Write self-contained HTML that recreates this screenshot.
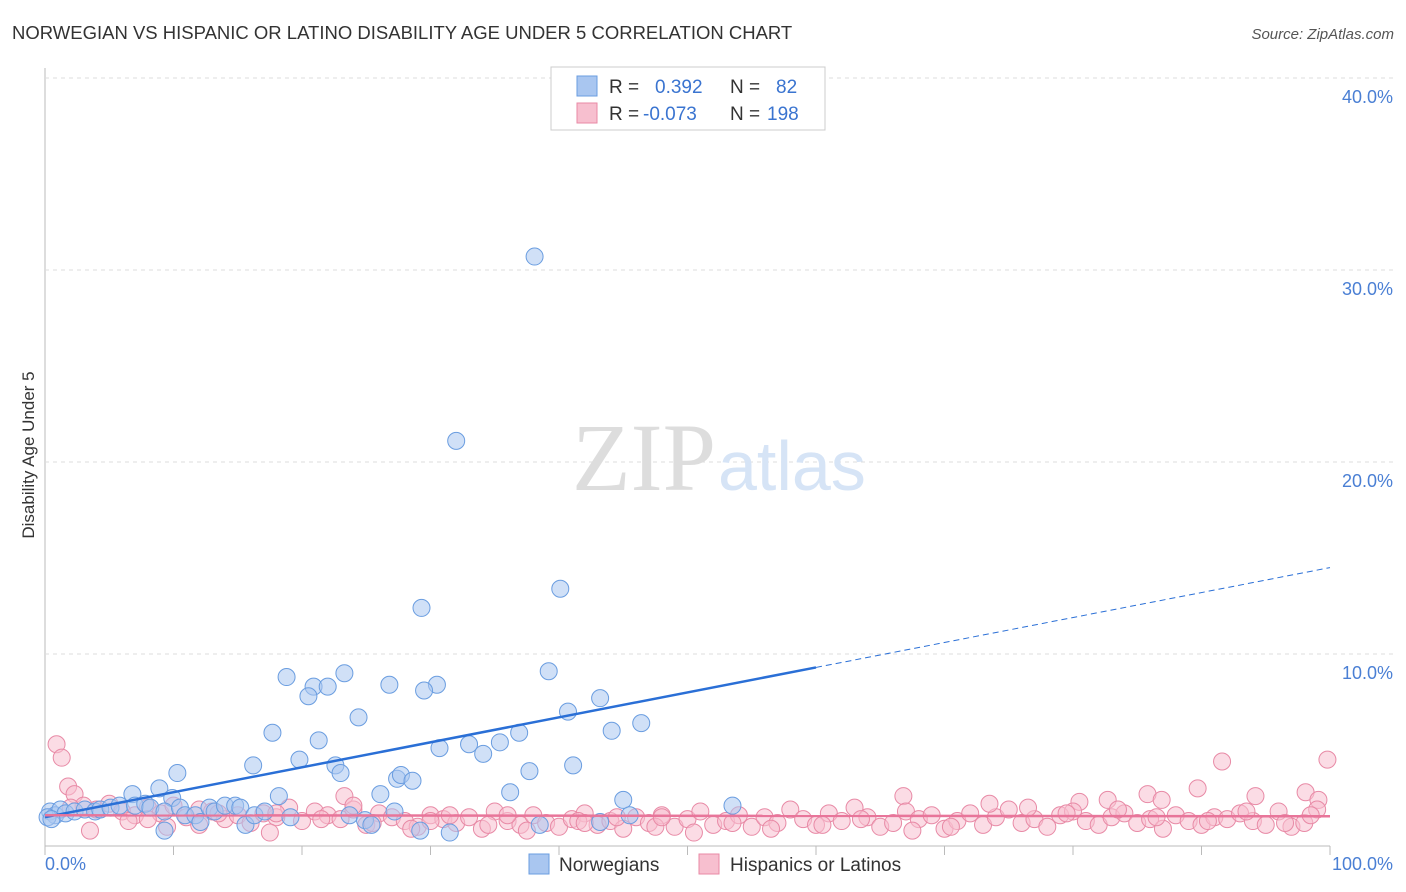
<!DOCTYPE html>
<html><head><meta charset="utf-8"><style>
body{margin:0;background:#fff;font-family:"Liberation Sans",sans-serif;}
svg{display:block}
</style></head><body>
<svg id="chart" width="1406" height="892">
<text x="12" y="39" font-size="18.5" fill="#333">NORWEGIAN VS HISPANIC OR LATINO DISABILITY AGE UNDER 5 CORRELATION CHART</text>
<text x="1394" y="39" font-size="15" fill="#555" text-anchor="end" font-style="italic">Source: ZipAtlas.com</text>
<text x="34" y="455" font-size="17" fill="#333" text-anchor="middle" transform="rotate(-90 34 455)">Disability Age Under 5</text>
<g id="grid"></g>
<text x="716" y="490" font-size="96" fill="#ddd" text-anchor="end" font-family="Liberation Serif">ZIP</text>
<text x="718" y="490" font-size="70" fill="#d6e4f6">atlas</text>
<g id="pts"></g>
<g id="lines"></g>
<g>
<rect x="551" y="67" width="274" height="63" fill="#fff" stroke="#ccc"/>
<rect x="577" y="76" width="20" height="20" fill="#a9c6f0" stroke="#6a9de0"/>
<rect x="577" y="103" width="20" height="20" fill="#f7bfcf" stroke="#e88aa6"/>
<text x="609" y="93" font-size="19" fill="#333">R = <tspan fill="#3a74d0" x="655">0.392</tspan><tspan x="730" fill="#333">N =</tspan><tspan x="776" fill="#3a74d0">82</tspan></text>
<text x="609" y="120" font-size="19" fill="#333">R = <tspan fill="#3a74d0" x="643">-0.073</tspan><tspan x="730" fill="#333">N =</tspan><tspan x="767" fill="#3a74d0">198</tspan></text>
</g>
<g>
<rect x="529" y="854" width="20" height="20" fill="#a9c6f0" stroke="#6a9de0"/>
<text x="559" y="871" font-size="19" fill="#333">Norwegians</text>
<rect x="699" y="854" width="20" height="20" fill="#f7bfcf" stroke="#e88aa6"/>
<text x="730" y="871" font-size="19" fill="#333">Hispanics or Latinos</text>
</g>
</svg>
<script>
const yTicks=[10,20,30,40];
const yTickLabels=["10.0%","20.0%","30.0%","40.0%"];
const xTickLabels=["0.0%","100.0%"];
const blueX=[38.1,32.0,29.3,40.1,39.2,43.2,40.7,46.4,44.1,18.8,20.9,22.0,23.3,26.8,30.5,29.5,20.5,24.4,17.7,21.3,30.7,33.0,34.1,35.4,36.9,19.8,22.6,23.0,16.2,10.3,37.7,41.1,27.4,27.7,28.6,8.9,36.2,26.1,6.8,18.2,45.0,53.5,9.9,0.4,0.8,1.2,1.6,2.3,3.1,3.9,4.3,5.1,5.8,7.0,7.8,8.2,9.3,10.5,10.9,11.7,12.1,12.8,13.2,14.0,14.8,15.2,15.6,16.3,17.1,19.1,23.7,24.9,25.4,27.2,29.2,31.5,38.5,43.2,45.5,9.3,0.2,0.5];
const blueY=[30.7,21.1,12.4,13.4,9.1,7.7,7.0,6.4,6.0,8.8,8.3,8.3,9.0,8.4,8.4,8.1,7.8,6.7,5.9,5.5,5.1,5.3,4.8,5.4,5.9,4.5,4.2,3.8,4.2,3.8,3.9,4.2,3.5,3.7,3.4,3.0,2.8,2.7,2.7,2.6,2.4,2.1,2.5,1.8,1.6,1.9,1.7,1.8,1.9,1.8,1.9,2.0,2.1,2.1,2.2,2.0,1.8,2.0,1.6,1.6,1.25,2.0,1.8,2.1,2.1,2.0,1.1,1.6,1.8,1.5,1.6,1.35,1.1,1.8,0.8,0.7,1.1,1.25,1.6,0.8,1.5,1.4];
const pinkX=[0.9,1.3,1.8,2.3,91.6,99.8,89.7,98.1,94.2,85.8,86.9,82.7,66.8,23.3,80.5,99.1,
3,4,5,6,7,8,9,10,11,12,13,14,15,16,17,18,19,20,21,22,23,24,25,26,27,28,29,30,31,32,33,34,35,36,37,38,39,40,41,42,43,44,45,46,47,48,49,50,51,52,53,54,55,56,57,58,59,60,61,62,63,64,65,66,67,68,69,70,71,72,73,74,75,76,77,78,79,80,81,82,83,84,85,86,87,88,89,90,91,92,93,94,95,96,97,98,99,
3.5,6.5,9.5,13.5,17.5,21.5,25.5,28.5,31.5,34.5,37.5,41.5,44.5,47.5,50.5,53.5,56.5,60.5,63.5,67.5,70.5,73.5,76.5,79.5,83.5,86.5,90.5,93.5,96.5,98.5,
2,8,12,18,24,30,36,42,48,54,60,66,72,78,84,90,95,97];
const pinkY=[5.3,4.6,3.1,2.7,4.4,4.5,3.0,2.8,2.6,2.7,2.4,2.4,2.6,2.6,2.3,2.4,
2.1,1.9,2.2,1.8,1.6,2.0,1.7,2.1,1.5,1.9,1.8,1.4,1.6,1.2,1.7,1.5,2.0,1.3,1.8,1.6,1.4,1.9,1.1,1.7,1.5,1.3,1.0,1.6,1.4,1.2,1.5,0.9,1.8,1.3,1.1,1.6,1.2,1.0,1.4,1.7,1.1,1.3,0.9,1.5,1.2,1.6,1.0,1.4,1.8,1.1,1.3,1.6,1.0,1.5,1.2,1.9,1.4,1.1,1.7,1.3,2.0,1.5,1.0,1.2,1.8,1.4,1.6,0.9,1.3,1.7,1.1,1.5,1.9,1.2,1.4,1.0,1.6,1.8,1.3,1.1,1.5,1.7,1.2,1.4,0.9,1.6,1.3,1.1,
1.5,1.4,1.7,1.3,1.1,1.8,1.0,1.2,1.9,0.8,1.3,1.0,1.7,0.7,1.4,1.2,0.9,1.6,1.1,0.8,1.3,1.5,1.0,0.7,1.2,0.9,1.1,1.4,0.8,1.0,
2.2,2.0,1.7,1.9,1.5,1.3,1.8,1.2,1.6,2.0,1.4,1.1,1.7,2.1,1.3,1.6,1.2,1.5];
const blueTrend=[1.5,14.5];
const pinkTrend=[1.6,1.55];
const X0=45,X1=1330,Y0=846,PPU=19.2;
const sx=v=>X0+(X1-X0)*v/100, sy=v=>Y0-v*PPU;
const NS="http://www.w3.org/2000/svg";
function mk(t,a,p){const e=document.createElementNS(NS,t);for(const k in a)e.setAttribute(k,a[k]);p.appendChild(e);return e;}
const grid=document.getElementById('grid');
let ax=mk('line',{x1:X0,y1:68,x2:X0,y2:Y0,stroke:'#bbb'},grid);


let bx=mk('line',{x1:X0,y1:Y0,x2:X1,y2:Y0,stroke:'#bbb'},grid);


for(let i=0;i<=10;i++){const t=mk('line',{x1:sx(i*10),y1:Y0,x2:sx(i*10),y2:Y0+9,stroke:'#bbb'},grid);

}
yTicks.forEach((v,i)=>{const g=mk('line',{x1:X0,y1:sy(v),x2:1394,y2:sy(v),stroke:'#ddd','stroke-dasharray':'4,4'},grid);


const t=mk('text',{x:1393,y:sy(v)+25,'font-size':18,fill:'#4a7fd4','text-anchor':'end'},grid);t.textContent=yTickLabels[i];

});
const tl=mk('text',{x:45,y:870,'font-size':18,fill:'#4a7fd4'},grid);tl.textContent=xTickLabels[0];


const tr=mk('text',{x:1393,y:870,'font-size':18,fill:'#4a7fd4','text-anchor':'end'},grid);tr.textContent=xTickLabels[1];


const pts=document.getElementById('pts');
const nP=Math.min(pinkX.length,pinkY.length);
for(let i=0;i<nP;i++){const c=mk('circle',{cx:sx(pinkX[i]),cy:sy(pinkY[i]),r:8.5,fill:'#f7bfcf','fill-opacity':0.55,stroke:'#e88aa6','stroke-width':1},pts);

}
const nB=Math.min(blueX.length,blueY.length);
for(let i=0;i<nB;i++){const c=mk('circle',{cx:sx(blueX[i]),cy:sy(blueY[i]),r:8.5,fill:'#a9c6f0','fill-opacity':0.55,stroke:'#6a9de0','stroke-width':1},pts);

}
const lines=document.getElementById('lines');
const bAt=v=>blueTrend[0]+(blueTrend[1]-blueTrend[0])*v/100;
let l1=mk('line',{x1:sx(0),y1:sy(bAt(0)),x2:sx(60),y2:sy(bAt(60)),stroke:'#2a6fd6','stroke-width':2.5},lines);


let l2=mk('line',{x1:sx(60),y1:sy(bAt(60)),x2:sx(100),y2:sy(bAt(100)),stroke:'#2a6fd6','stroke-width':1,'stroke-dasharray':'6,4'},lines);


let l3=mk('line',{x1:sx(0),y1:sy(pinkTrend[0]),x2:sx(100),y2:sy(pinkTrend[1]),stroke:'#e8759a','stroke-width':2.5},lines);


</script>
</body></html>
